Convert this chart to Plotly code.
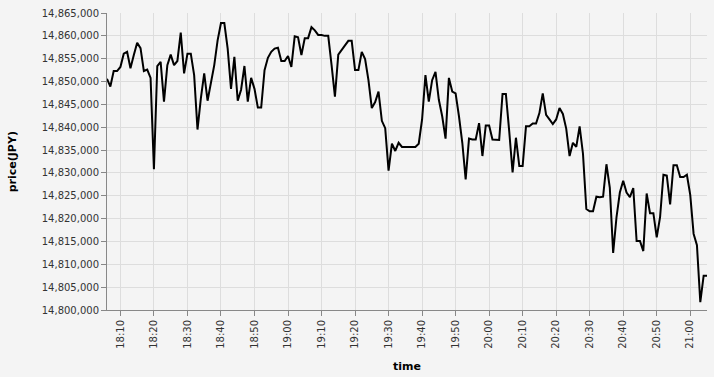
import pandas as pd
import plotly.graph_objects as go

start_time = "2024-01-01 18:06"
n_points = 180

# price offsets in thousands of JPY above 14,800,000, one per minute from 18:06
price_k = [
    50.6, 48.9, 52.3, 52.3, 53.2, 56.1, 56.5, 52.9, 55.8, 58.5,
    57.3, 52.3, 52.6, 50.8, 30.8, 53.4, 54.3, 45.6, 53.6, 55.9,
    53.6, 54.5, 60.7, 51.8, 56.1, 56.1, 51.4, 39.5, 46.3, 51.8,
    45.8, 50.0, 53.6, 59.0, 62.8, 62.8, 57.2, 48.4, 55.4, 45.8,
    48.2, 53.4, 45.6, 50.8, 48.4, 44.3, 44.3, 52.5, 55.2, 56.5,
    57.2, 57.4, 54.5, 54.5,
    55.6, 53.2, 59.9, 59.7, 55.8, 59.5, 59.5, 61.9, 61.2, 60.2,
    60.2, 60.0, 60.0, 53.6, 46.7, 55.9, 56.8, 57.9, 58.9, 58.9,
    52.5, 52.5, 56.5, 54.9, 50.3, 44.2, 45.5, 47.8, 41.4, 39.8,
    30.5, 36.4, 34.8, 36.6, 35.7, 35.7, 35.7, 35.7, 35.7, 36.4,
    41.7, 51.4, 45.6, 50.3, 52.1, 46.0, 42.4, 37.5, 50.8, 47.8,
    47.4, 42.4, 36.6, 28.6, 37.5, 37.3, 37.3, 40.9, 33.7, 40.4,
    40.4, 37.3, 37.2, 37.2, 47.3, 47.3, 39.1, 30.1, 37.7, 31.5,
    31.5, 40.2, 40.2, 40.8, 40.8, 43.1, 47.4, 42.7, 41.7, 40.7,
    41.7, 44.2, 42.9, 39.7, 33.7, 36.6, 35.7, 40.2, 34.2, 22.1,
    21.6, 21.6, 24.8, 24.7, 24.8, 31.9, 26.8, 12.5, 20.3, 25.7,
    28.3, 25.7, 24.7, 26.7, 15.1, 15.1, 12.9, 25.5, 21.2, 21.2,
    15.9, 20.3, 29.6, 29.4, 23.1, 31.7, 31.7, 29.1, 29.1, 29.6,
    25.2, 16.7, 14.2, 1.7, 7.5, 7.5,
]
base_price = 14800000
prices = [base_price + round(v * 1000) for v in price_k]
times = pd.date_range(start_time, periods=len(prices), freq="1min")

y_min, y_max, y_step = 14800000, 14865000, 5000

bg = "#f4f4f4"
grid = "#dddddd"
axis_col = "#888888"
font_family = "DejaVu Sans"

fig = go.Figure()
fig.add_trace(go.Scatter(
    x=times, y=prices, mode="lines",
    line=dict(color="black", width=2),
    showlegend=False,
))

fig.update_layout(
    width=714, height=377,
    margin=dict(l=107, r=7, t=10, b=67),
    paper_bgcolor=bg, plot_bgcolor=bg,
    font=dict(family=font_family, size=10, color="#333333"),
    xaxis=dict(
        range=[times[0], times[-1]],
        type="date",
        tickmode="linear",
        tick0="2024-01-01 18:10",
        dtick=600000,
        tickformat="%H:%M",
        tickangle=-90,
        showgrid=True, gridcolor=grid, gridwidth=1,
        showline=True, linecolor=axis_col, linewidth=1,
        ticks="outside", ticklen=5, tickcolor=axis_col,
        zeroline=False,
        tickfont=dict(size=10, color="#333333"),
    ),
    yaxis=dict(
        range=[y_min, y_max],
        tickmode="linear", tick0=y_min, dtick=y_step,
        tickformat=",d",
        showgrid=True, gridcolor=grid, gridwidth=1,
        showline=True, linecolor=axis_col, linewidth=1,
        ticks="outside", ticklen=5, tickcolor=axis_col,
        zeroline=False,
        tickfont=dict(size=10, color="#333333"),
    ),
    annotations=[
        dict(text="<b>price(JPY)</b>", xref="paper", yref="paper",
             x=-0.157, y=0.5, xanchor="center", yanchor="middle",
             textangle=-90, showarrow=False,
             font=dict(size=11, color="#000000", family=font_family)),
        dict(text="<b>time</b>", xref="paper", yref="paper",
             x=0.5, y=-0.19, xanchor="center", yanchor="middle",
             showarrow=False,
             font=dict(size=11, color="#000000", family=font_family)),
    ],
)

fig.write_html("out.html")
